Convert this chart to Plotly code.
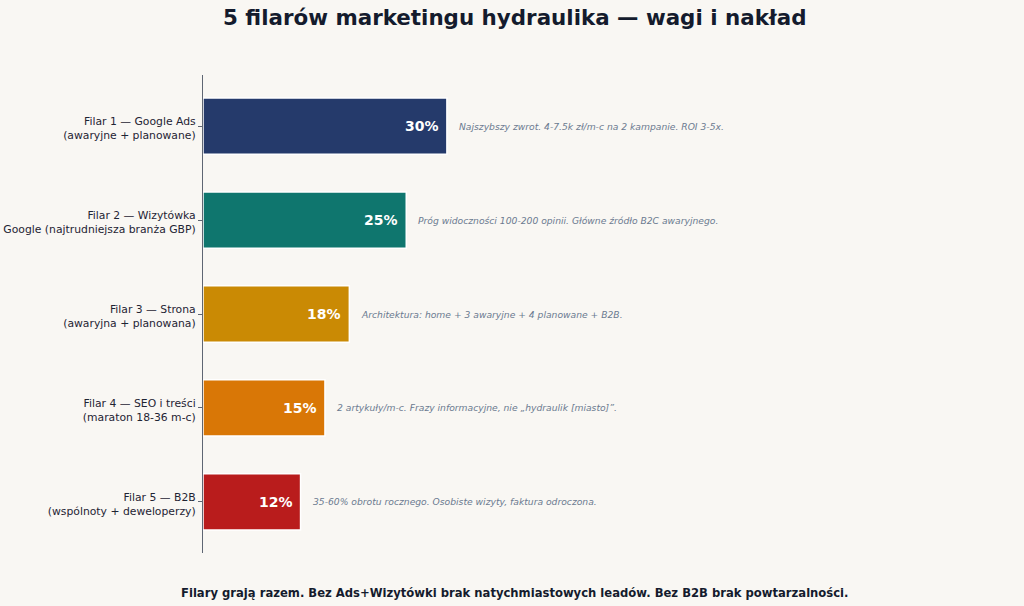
import plotly.graph_objects as go

categories = [
    "Filar 1 — Google Ads<br>(awaryjne + planowane)",
    "Filar 2 — Wizytówka<br>Google (najtrudniejsza branża GBP)",
    "Filar 3 — Strona<br>(awaryjna + planowana)",
    "Filar 4 — SEO i treści<br>(maraton 18-36 m-c)",
    "Filar 5 — B2B<br>(wspólnoty + deweloperzy)",
]
weights = [30, 25, 18, 15, 12]
notes = [
    "Najszybszy zwrot. 4-7.5k zł/m-c na 2 kampanie. ROI 3-5x.",
    "Próg widoczności 100-200 opinii. Główne źródło B2C awaryjnego.",
    "Architektura: home + 3 awaryjne + 4 planowane + B2B.",
    "2 artykuły/m-c. Frazy informacyjne, nie „hydraulik [miasto]”.",
    "35-60% obrotu rocznego. Osobiste wizyty, faktura odroczona.",
]
colors = ["#253a6b", "#0f766e", "#ca8a04", "#d97706", "#b91c1c"]

pos = list(range(len(categories)))
FONT = "DejaVu Sans"
W, H = 1024, 606
L, R, T, B = 203, 1016, 75, 553


def px(x):
    return (x - L) / (R - L)


def py(y):
    return (B - y) / (B - T)


fig = go.Figure()
fig.add_trace(go.Bar(
    x=weights, y=pos, orientation="h",
    marker=dict(color=colors, line=dict(color="white", width=1.5)),
    width=0.6,
    hoverinfo="skip",
))

for p, v, n in zip(pos, weights, notes):
    fig.add_annotation(
        x=v, y=p, text=f"{v}%", showarrow=False, xanchor="right", yanchor="middle",
        xshift=-6, font=dict(family=FONT, size=14, color="white", weight="bold"),
    )
    fig.add_annotation(
        x=v, y=p, text=n, showarrow=False, xanchor="left", yanchor="middle",
        xshift=10, font=dict(family=FONT, size=9.2, color="#6b7a90", style="italic"),
    )

fig.add_annotation(
    x=px(515), y=py(18), xref="paper", yref="paper", text="5 filarów marketingu hydraulika — wagi i nakład",
    showarrow=False, xanchor="center", yanchor="middle",
    font=dict(family=FONT, size=21.4, color="#141b2d", weight="bold"),
)
fig.add_annotation(
    x=px(515), y=py(593), xref="paper", yref="paper",
    text="Filary grają razem. Bez Ads+Wizytówki brak natychmiastowych leadów. Bez B2B brak powtarzalności.",
    showarrow=False, xanchor="center", yanchor="middle",
    font=dict(family=FONT, size=11.6, color="#141b2d", weight="bold"),
)

fig.update_layout(
    width=W, height=H,
    margin=dict(l=L, r=W - R, t=T, b=H - B, pad=0, autoexpand=False),
    paper_bgcolor="#f9f7f3", plot_bgcolor="#f9f7f3",
    showlegend=False,
    xaxis=dict(range=[0, 100], visible=False, fixedrange=True, automargin=False),
    yaxis=dict(
        range=[4.545, -0.545], tickmode="array", tickvals=pos, ticktext=categories,
        showgrid=False, zeroline=False, showline=True, linecolor="#5f6673", linewidth=1.3,
        ticks="outside", ticklen=4, tickcolor="#5f6673", automargin=False,
        ticklabelshift=-2,
        tickfont=dict(family=FONT, size=10.8, color="#1f2433"),
    ),
    font=dict(family=FONT),
)

fig.write_html("out.html")
